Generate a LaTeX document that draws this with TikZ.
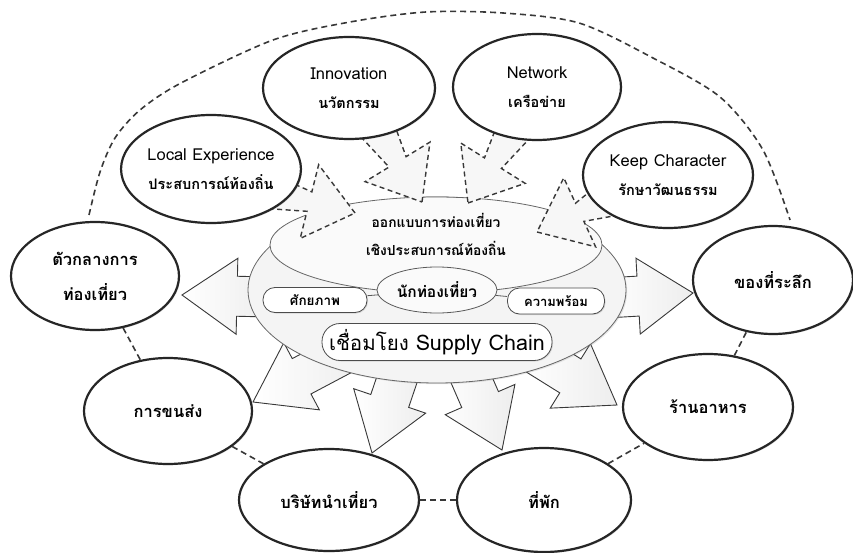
\documentclass[tikz,border=0pt]{standalone}
\usepackage{fontspec}
\setmainfont[Script=Thai]{Loma}
\usetikzlibrary{calc,shapes.geometric,shadows}
\newcommand\blockarrow[7]{%
  \coordinate (ba-B) at #2;
  \coordinate (ba-T) at #3;
  \coordinate (ba-H) at ($(ba-T)!#4!(ba-B)$);
  \coordinate (ba-bl) at ($(ba-H)!#5!90:(ba-T)$);
  \coordinate (ba-br) at ($(ba-H)!#5!-90:(ba-T)$);
  \coordinate (ba-nl) at ($(ba-H)!#6!90:(ba-T)$);
  \coordinate (ba-nr) at ($(ba-H)!#6!-90:(ba-T)$);
  \coordinate (ba-kl) at ($(ba-B)!#7!90:(ba-T)$);
  \coordinate (ba-kr) at ($(ba-B)!#7!-90:(ba-T)$);
  \path[#1] (ba-T) -- (ba-bl) -- (ba-nl) -- (ba-kl) -- (ba-kr) -- (ba-nr) -- (ba-br) -- cycle;}
\newcommand\lat[1]{{\mdseries\fontsize{16.5}{29}\selectfont #1}}
\begin{document}
\begin{tikzpicture}[x=1pt,y=-1pt,
  outer/.style={ellipse, draw=black!85, line width=2.2pt, fill=white, align=center, inner sep=0pt,
    drop shadow={shadow xshift=1.2pt, shadow yshift=-1.2pt, opacity=0.25}},
  bigtxt/.style={font=\bfseries\fontsize{16.5}{35}\selectfont},
  toptxt/.style={font=\bfseries\fontsize{14.5}{29}\selectfont},
  sarrow/.style={draw=black!78, line width=0.9pt, left color=white, right color=gray!14, line join=miter},
  darrow/.style={draw=black!78, line width=1.4pt, dash pattern=on 5pt off 3.5pt, fill=gray!6},
  pill/.style={draw=black!70, line width=0.8pt, fill=white, rounded corners=12pt, inner sep=0pt,
    drop shadow={shadow xshift=1pt, shadow yshift=-1pt, opacity=0.25}},
  dashline/.style={draw=black!78, line width=1.6pt, dash pattern=on 6pt off 4pt}]
\useasboundingbox (0,0) rectangle (853,553);

% top dashed arc
\draw[dashline] plot[smooth] coordinates {(89,215) (100,172) (115,138) (140,110) (181,83) (273,40) (350,22) (426,12) (503,13) (579,23) (653,58) (720,97) (763,150) (790,220)};

% solid block arrows (outwards)
\blockarrow{sarrow}{(270,297)}{(182,295)}{55pt}{38pt}{20pt}{20pt}
\blockarrow{sarrow}{(605,298)}{(693,293)}{55pt}{38pt}{20pt}{20pt}
\blockarrow{sarrow}{(355,348)}{(253,402)}{55pt}{38pt}{20pt}{20pt}
\blockarrow{sarrow}{(406,353)}{(372,453)}{55pt}{38pt}{20pt}{20pt}
\blockarrow{sarrow}{(459,351)}{(502,450)}{55pt}{38pt}{20pt}{20pt}
\blockarrow{sarrow}{(532,352)}{(617,405)}{55pt}{38pt}{20pt}{20pt}

% central ellipse
\node[ellipse, draw=black!60, line width=0.8pt, fill=gray!9, minimum width=378pt, minimum height=186pt,
  drop shadow={shadow xshift=1.2pt, shadow yshift=-1.2pt, opacity=0.2}] (core) at (437,290) {};
\node[ellipse, draw=black!60, line width=0.8pt, fill=gray!4, minimum width=332pt, minimum height=96pt] (design) at (436,245) {};

% dashed arrows (inwards)
\blockarrow{darrow}{(255,188)}{(355,213)}{47pt}{38pt}{10pt}{20pt}
\blockarrow{darrow}{(372,120)}{(422,202)}{47pt}{38pt}{10pt}{20pt}
\blockarrow{darrow}{(520,120)}{(468,203)}{47pt}{38pt}{10pt}{20pt}
\blockarrow{darrow}{(615,196)}{(537,232)}{47pt}{38pt}{10pt}{20pt}

% central texts
\node[align=center, font=\bfseries\fontsize{13.8}{28}\selectfont] (designtxt) at (436,234) {ออกแบบการท่องเที่ยว\\เชิงประสบการณ์ท้องถิ่น};
\node[ellipse, draw=black!65, line width=0.8pt, fill=gray!4, minimum width=120pt, minimum height=46pt, inner sep=0pt,
  font=\bfseries\fontsize{15.5}{17}\selectfont] (tourist) at (437,290) {นักท่องเที่ยว};
\node[pill, minimum width=104pt, minimum height=25pt, font=\bfseries\fontsize{13.5}{15}\selectfont] (potential) at (315,300) {ศักยภาพ};
\node[pill, minimum width=97pt, minimum height=26pt, font=\bfseries\fontsize{13}{15}\selectfont] (ready) at (556,301) {ความพร้อม};
\draw[black!65, line width=0.8pt] (potential) -- (tourist);
\draw[black!65, line width=0.8pt] (tourist) -- (ready);
\node[pill, rounded corners=18pt, minimum width=230pt, minimum height=37pt, font=\fontsize{20.5}{23}\selectfont] (supply) at (437,342) {เชื่อมโยง {\fontsize{21.5}{23}\selectfont Supply Chain}};

% outer ellipses
\node[outer, toptxt, minimum width=172pt, minimum height=102pt] (inn) at (349,88) {\lat{Innovation}\\นวัตกรรม};
\node[outer, toptxt, minimum width=168pt, minimum height=106pt] (net) at (537,87) {\lat{Network}\\เครือข่าย};
\node[outer, toptxt, minimum width=174pt, minimum height=108pt] (le) at (211,169) {\lat{Local Experience}\\ประสบการณ์ท้องถิ่น};
\node[outer, toptxt, minimum width=170pt, minimum height=106pt] (kc) at (668,175) {\lat{Keep Character}\\รักษาวัฒนธรรม};
\node[outer, bigtxt, minimum width=168pt, minimum height=108pt] (agent) at (95,276) {ตัวกลางการ\\ท่องเที่ยว};
\node[outer, bigtxt, minimum width=160pt, minimum height=108pt] (souv) at (773,280) {ของที่ระลึก};
\node[outer, bigtxt, minimum width=168pt, minimum height=106pt] (trans) at (168,411) {การขนส่ง};
\node[outer, bigtxt, minimum width=170pt, minimum height=106pt] (rest) at (708,407) {ร้านอาหาร};
\node[outer, bigtxt, minimum width=180pt, minimum height=102pt] (tourco) at (329,500) {บริษัทนำเที่ยว};
\node[outer, bigtxt, minimum width=174pt, minimum height=104pt] (stay) at (544,500) {ที่พัก};

% dashed links between outer ellipses
\draw[dashline] (agent) -- (trans);
\draw[dashline] (trans) -- (tourco);
\draw[dashline] (tourco) -- (stay);
\draw[dashline] (stay) -- (rest);
\draw[dashline] (rest) -- (souv);
\end{tikzpicture}
\end{document}
